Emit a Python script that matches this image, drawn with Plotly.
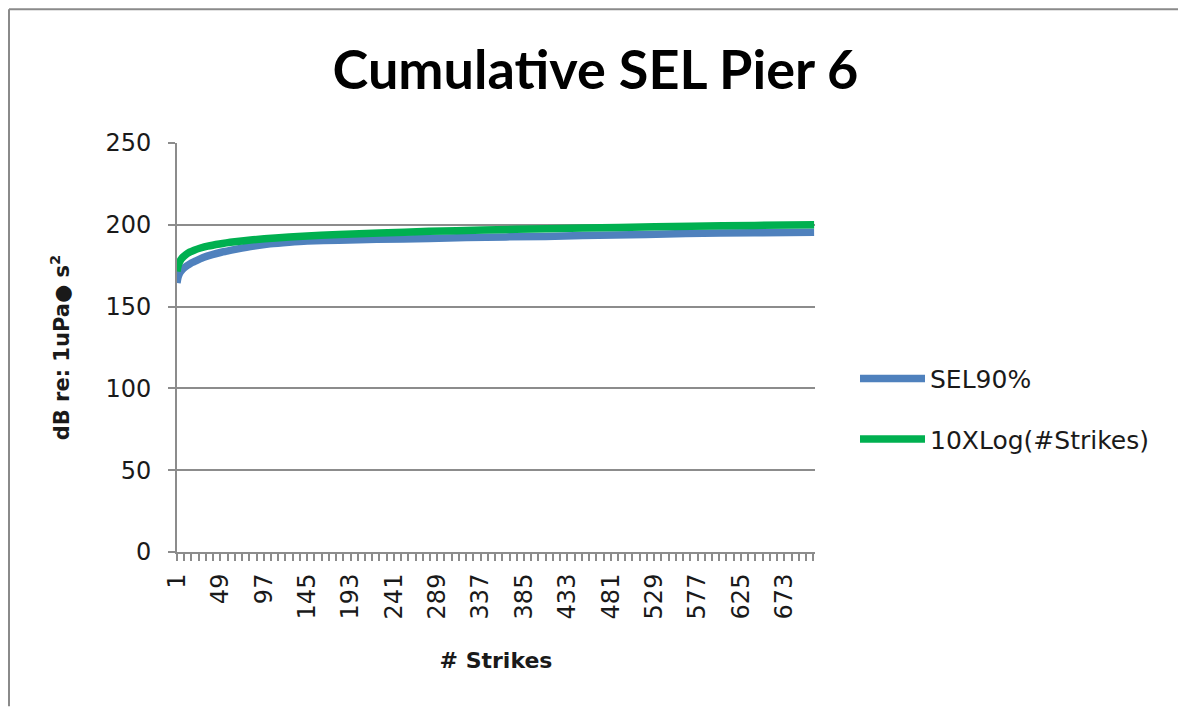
import plotly.graph_objects as go

# ---- data ----
strikes_last = 706
tick_labels = [1, 49, 97, 145, 193, 241, 289, 337, 385, 433, 481, 529, 577, 625, 673]

sel90_strikes = [1, 2, 3, 5, 8, 12, 16, 22, 30, 40, 50, 67, 86, 104, 125, 145, 180, 222, 280, 321, 409, 450, 520, 564, 640, 706]
sel90_db = [164.5, 167.5, 169.3, 171.3, 173.3, 175.0, 176.4, 178.0, 180.0, 181.8, 183.2, 185.1, 187.0, 188.4, 189.4, 190.1, 190.6, 191.2, 191.6, 192.3, 192.9, 193.5, 194.1, 194.7, 195.1, 195.4]

log_strikes = [1, 2, 3, 4, 6, 8, 11, 15, 20, 27, 35, 48, 65, 85, 110, 140, 180, 225, 280, 340, 410, 490, 570, 640, 706]
log_db = [171.5, 174.5, 176.3, 177.5, 179.3, 180.5, 181.9, 183.3, 184.5, 185.8, 187.0, 188.3, 189.6, 190.8, 192.0, 193.0, 194.1, 195.0, 196.0, 196.8, 197.6, 198.4, 199.1, 199.6, 200.0]

BLUE = "#4F81BD"
GREEN = "#00B050"
GRID = "#8C8C8C"
TXT = "#1A1A1A"

# page body has an 8px margin; lay out in page pixels and shift by it
OFF = 8
W, H = 1186 - 2 * OFF, 715 - 2 * OFF
L, R, T, B = 177 - OFF, 815 - OFF, 143 - OFF, 552.5 - OFF


def px(xp):
    return (xp - OFF - L) / (R - L)


def py(yp):
    return (B - (yp - OFF)) / (B - T)


fig = go.Figure()
fig.add_trace(go.Scatter(x=sel90_strikes, y=sel90_db, mode="lines", name="SEL90%",
                         line=dict(color=BLUE, width=7.5, shape="spline", smoothing=0.6),
                         legendgroup="a"))
fig.add_trace(go.Scatter(x=log_strikes, y=log_db, mode="lines", name="10XLog(#Strikes)",
                         line=dict(color=GREEN, width=7.5, shape="spline", smoothing=0.6),
                         legendgroup="b"))

frame = dict(color="#8A8A8A", width=2)

fig.update_layout(
    width=W, height=H,
    margin=dict(l=L, r=W - R, t=T, b=H - B),
    paper_bgcolor="white", plot_bgcolor="white",
    font=dict(family="DejaVu Sans", size=25, color=TXT),
    title=dict(text="<b>Cumulative SEL Pier 6</b>", xref="paper", x=px(595.5), xanchor="center",
               yref="container", y=1 - (70 - OFF) / H, yanchor="middle",
               font=dict(family="Lato", size=54, color="#000000")),
    showlegend=True,
    legend=dict(x=px(855), xanchor="left", y=py(356), yanchor="top",
                font=dict(family="DejaVu Sans", size=25, color=TXT),
                tracegroupgap=25, itemwidth=65, bgcolor="rgba(0,0,0,0)"),
    xaxis=dict(range=[1, strikes_last + 1], tickmode="array", tickvals=tick_labels,
               ticktext=[str(v) for v in tick_labels], tickangle=-90,
               showgrid=False, zeroline=False, showline=True, linecolor=GRID, linewidth=2,
               ticks="outside", ticklen=7, tickwidth=1.5, tickcolor=GRID,
               ticklabelstandoff=3,
               minor=dict(tick0=1, dtick=8, ticks="outside", ticklen=7, tickwidth=1.5, tickcolor=GRID, showgrid=False),
               tickfont=dict(family="DejaVu Sans", size=24, color=TXT),
               automargin=True,
               title=dict(text="<b># Strikes</b>", standoff=34,
                          font=dict(family="DejaVu Sans", size=22, color=TXT))),
    yaxis=dict(range=[0, 250], dtick=50, tick0=0,
               showgrid=True, gridcolor=GRID, gridwidth=2, zeroline=False,
               showline=True, linecolor=GRID, linewidth=2,
               ticks="outside", ticklen=7, tickwidth=2, tickcolor=GRID,
               ticklabelstandoff=12,
               tickfont=dict(family="DejaVu Sans", size=24, color=TXT),
               automargin=True,
               title=dict(text="<b>dB re: 1uPa● s<sup>2</sup></b>", standoff=30,
                          font=dict(family="DejaVu Sans", size=21, color=TXT))),
    shapes=[
        dict(type="line", xref="paper", yref="paper",
             x0=px(OFF + 1), x1=px(1186 - OFF), y0=py(OFF + 1), y1=py(OFF + 1), line=frame, layer="below"),
        dict(type="line", xref="paper", yref="paper",
             x0=px(OFF + 1), x1=px(OFF + 1), y0=py(OFF + 1), y1=py(715 - OFF), line=frame, layer="below"),
    ],
)

fig.write_html("out.html")
